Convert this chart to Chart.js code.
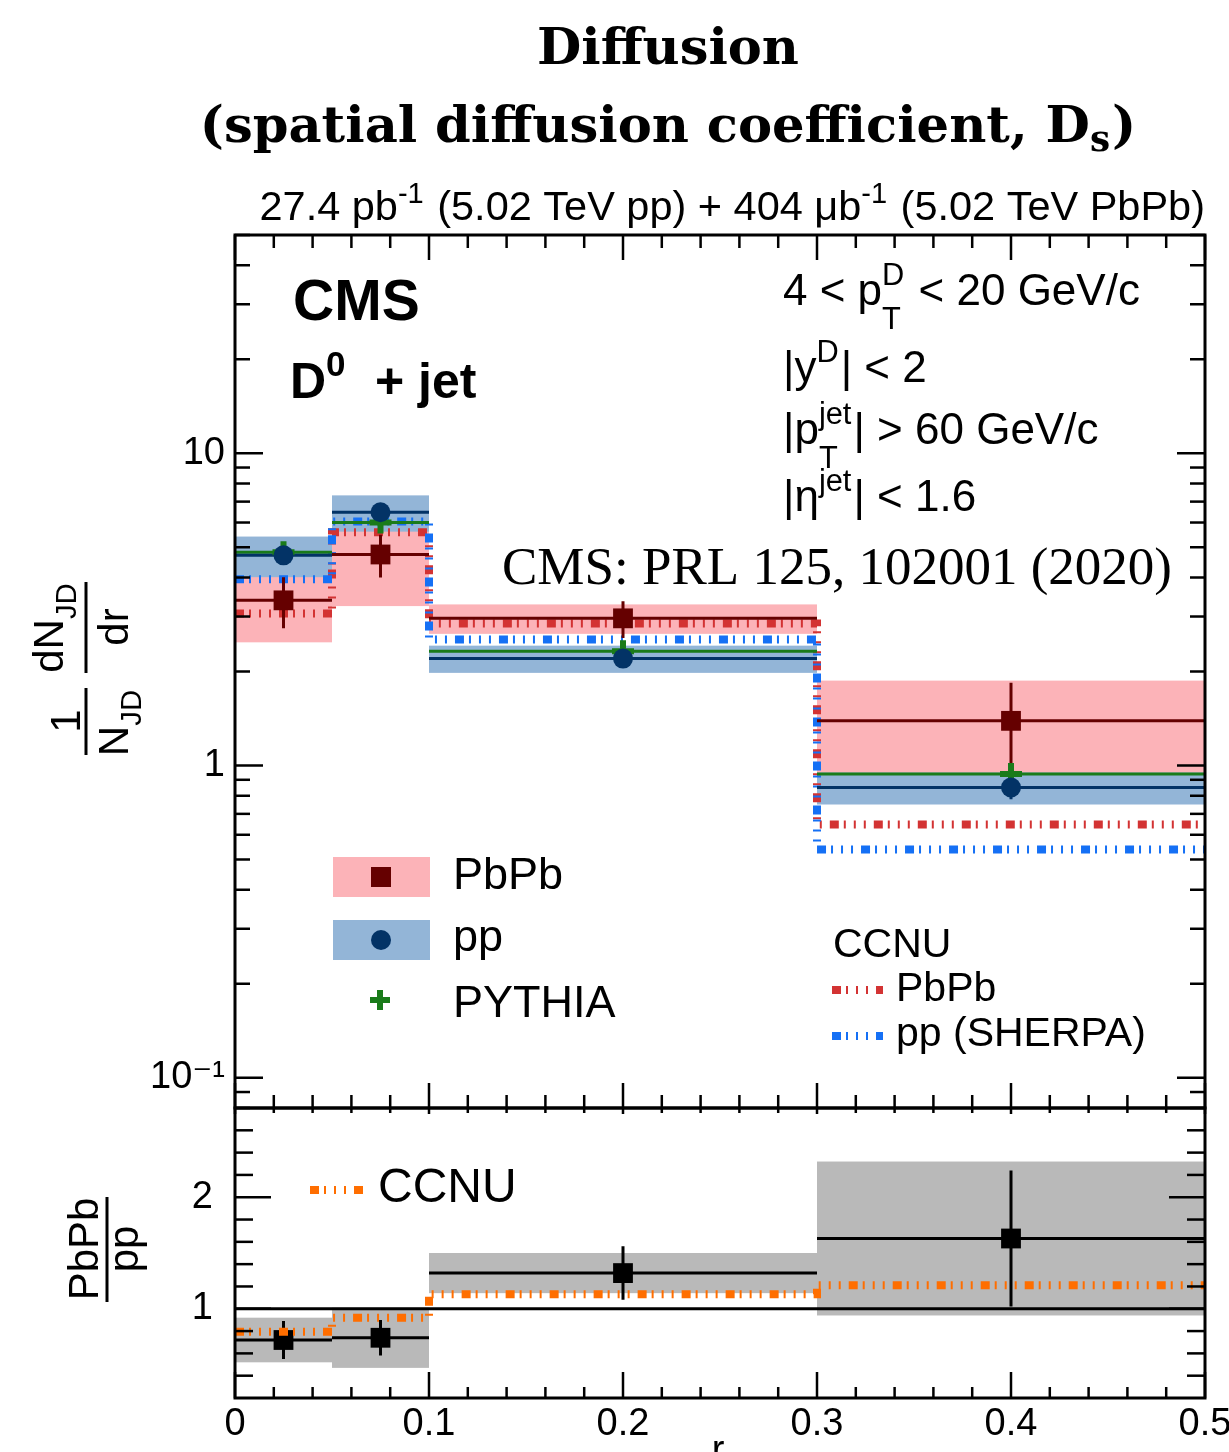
<!DOCTYPE html>
<html>
<head>
<meta charset="utf-8">
<script src="https://cdn.jsdelivr.net/npm/chart.js@4.4.1/dist/chart.umd.min.js"></script>
<style>
  body { margin: 0; background: #fff; overflow: hidden; }
  .panel { position: absolute; left: 0; width: 1229px; }
  #top { top: 0; height: 1112px; }
  #bot { top: 1100px; height: 352px; }
</style>
</head>
<body>
<div id="top" class="panel"><canvas id="c1"></canvas></div>
<div id="bot" class="panel"><canvas id="c2"></canvas></div>
<script>
// bins in r
const binEdges = [0, 0.05, 0.1, 0.3, 0.5];
const binCenters = [0.025, 0.075, 0.2, 0.4];

// top panel: 1/N dN/dr
const pbpbValues = [3.38, 4.74, 2.96, 1.39];
const pbpbStat = [0.63, 0.74, 0.40, 0.45];
const pbpbSyst = [0.90, 1.50, 0.32, 0.48];
const ppValues = [4.71, 6.47, 2.20, 0.85];
const ppStat = [0.30, 0.35, 0.12, 0.07];
const ppSyst = [0.70, 0.86, 0.22, 0.10];
const pythiaValues = [4.82, 6.00, 2.32, 0.94];
const ccnuPbPb = [3.07, 5.58, 2.85, 0.647];
const ccnuPP = [3.95, 6.05, 2.53, 0.538];

// bottom panel: PbPb / pp
const ratioValues = [0.72, 0.74, 1.32, 1.63];
const ratioStat = [0.17, 0.16, 0.24, 0.61];
const ratioSyst = [0.20, 0.27, 0.18, 0.69];
const ccnuRatio = [0.795, 0.92, 1.13, 1.21];

// ticks
const xTicks = [0, 0.1, 0.2, 0.3, 0.4, 0.5];
const xTickLabels = ['0', '0.1', '0.2', '0.3', '0.4', '0.5'];
const yTopTicks = [0.1, 1, 10];
const yTopTickLabels = ['10\u207B\u00B9', '1', '10'];
const yBotTicks = [1, 2];
const yBotTickLabels = ['1', '2'];

const SANS = '"Liberation Sans", Arial, "DejaVu Sans", sans-serif';
const SERIF = '"Liberation Serif", "Times New Roman", serif';
const SERIF_B = '"DejaVu Serif", serif';

const PBPB_MARK = '#650000', PBPB_BOX = '#fcb3b8';
const PP_MARK = '#033366', PP_BOX = '#93b5d7';
const PYTHIA_COL = '#1a7b1a';
const CCNU_RED = '#d33333', CCNU_BLUE = '#1570f5', CCNU_ORANGE = '#ff6e00';
const RATIO_BOX = '#b9b9b9';
const CCNU_DASH = [9, 5, 2, 8, 2, 8, 2, 8];

const xMinor = [];
for (let i = 1; i < 25; i++) if (i % 5) xMinor.push(i * 0.02);
const yTopMinor = [];
[0.01, 0.1, 1, 10].forEach(d => {
  for (let k = 2; k <= 9; k++) { const v = k * d; if (v >= 0.079 && v <= 50) yTopMinor.push(v); }
});
const yBotMinor = [];
for (let i = 2; i < 14; i++) if (i !== 5 && i !== 10) yBotMinor.push(i * 0.2);

function points(vals) { return vals.map((v, i) => ({ x: binCenters[i], y: v })); }
function binLines(vals) {
  const pts = [];
  vals.forEach((v, i) => {
    pts.push({ x: binEdges[i], y: v }, { x: binEdges[i + 1], y: v }, { x: binEdges[i + 1], y: null });
  });
  return pts;
}
function errorBars(vals, errs) {
  const pts = [];
  vals.forEach((v, i) => {
    pts.push({ x: binCenters[i], y: v - errs[i] }, { x: binCenters[i], y: v + errs[i] }, { x: binCenters[i], y: null });
  });
  return pts;
}
function steps(vals) {
  return binEdges.map((e, i) => ({ x: e, y: vals[Math.min(i, vals.length - 1)] }));
}
function lineSet(data, color, width, order, extra) {
  return Object.assign({ data, showLine: true, borderColor: color, borderWidth: width,
    pointRadius: 0, order, fill: false }, extra || {});
}
// keep chart area where we put it: no label padding
function fixScale(s, w, h) {
  if (w !== undefined) s.width = w;
  if (h !== undefined) s.height = h;
  s.paddingTop = s.paddingBottom = s.paddingLeft = s.paddingRight = 0;
}

// text with super/subscripts
function drawRich(ctx, x, y, parts, o) {
  const font = s => (o.bold ? 'bold ' : '') + s + 'px ' + o.fam;
  const small = o.size * (o.sc || 0.7);
  const items = parts.map(p => {
    if (typeof p === 'string') { ctx.font = font(o.size); return { p, w: ctx.measureText(p).width }; }
    ctx.font = font(small);
    const w = Math.max(p.sup ? ctx.measureText(p.sup).width : 0, p.sub ? ctx.measureText(p.sub).width : 0);
    return { p, w: w + 2 };
  });
  const total = items.reduce((a, b) => a + b.w, 0);
  if (o.measure) return total;
  let cx = o.align === 'center' ? x - total / 2 : o.align === 'right' ? x - total : x;
  ctx.textAlign = 'left';
  ctx.textBaseline = 'alphabetic';
  ctx.fillStyle = o.color || '#000';
  items.forEach(it => {
    const p = it.p;
    if (typeof p === 'string') {
      ctx.font = font(o.size);
      ctx.fillText(p, cx, y);
    } else {
      ctx.font = font(small);
      if (p.sup) ctx.fillText(p.sup, cx, y - o.size * (p.up || o.up || 0.42));
      if (p.sub) ctx.fillText(p.sub, cx, y + o.size * (p.down || o.down || 0.3));
    }
    cx += it.w;
  });
  return total;
}
function fitSize(ctx, parts, o, target) {
  const w = drawRich(ctx, 0, 0, parts, Object.assign({}, o, { size: 50, measure: true }));
  return 50 * target / w;
}
function vtext(ctx, parts, px, cy, size) {
  ctx.save();
  ctx.translate(px, cy);
  ctx.rotate(-Math.PI / 2);
  drawRich(ctx, 0, 0, parts, { size, fam: SANS, align: 'center', down: 0.3 });
  ctx.restore();
}
function vbar(ctx, x, y1, y2) {
  ctx.save(); ctx.strokeStyle = '#000'; ctx.lineWidth = 3;
  ctx.beginPath(); ctx.moveTo(x, y1); ctx.lineTo(x, y2); ctx.stroke(); ctx.restore();
}
function dashSample(ctx, x1, x2, y, color) {
  ctx.save(); ctx.strokeStyle = color; ctx.lineWidth = 8; ctx.setLineDash(CCNU_DASH);
  ctx.beginPath(); ctx.moveTo(x1, y); ctx.lineTo(x2, y); ctx.stroke(); ctx.restore();
}

// systematic boxes, drawn under the datasets
const sysBoxes = {
  id: 'sysBoxes',
  beforeDatasetsDraw(chart, args, opts) {
    const { ctx, chartArea: a, scales } = chart;
    ctx.save();
    ctx.beginPath(); ctx.rect(a.left, a.top, a.right - a.left, a.bottom - a.top); ctx.clip();
    opts.sets.forEach(s => {
      ctx.fillStyle = s.color;
      s.vals.forEach((v, i) => {
        const x0 = scales.x.getPixelForValue(binEdges[i]);
        const x1 = scales.x.getPixelForValue(binEdges[i + 1]);
        const y0 = scales.y.getPixelForValue(v + s.errs[i]);
        const y1 = scales.y.getPixelForValue(v - s.errs[i]);
        ctx.fillRect(x0, y0, x1 - x0, y1 - y0);
      });
    });
    ctx.restore();
  }
};

// ROOT style frame with inward ticks
const frameTicks = {
  id: 'frameTicks',
  afterDatasetsDraw(chart, args, o) {
    const { ctx, chartArea: a, scales } = chart;
    ctx.save();
    ctx.strokeStyle = '#000';
    ctx.lineWidth = 2.5;
    const seg = (x1, y1, x2, y2) => { ctx.beginPath(); ctx.moveTo(x1, y1); ctx.lineTo(x2, y2); ctx.stroke(); };
    const xt = (vals, lb, lt) => vals.forEach(v => {
      const px = scales.x.getPixelForValue(v);
      seg(px, a.bottom, px, a.bottom - lb);
      seg(px, a.top, px, a.top + lt);
    });
    const yt = (vals, l) => vals.forEach(v => {
      const py = scales.y.getPixelForValue(v);
      seg(a.left, py, a.left + l, py);
      seg(a.right, py, a.right - l, py);
    });
    xt(xTicks, o.xMaj[0], o.xMaj[1]);
    xt(xMinor, o.xMin[0], o.xMin[1]);
    yt(o.yMajor, o.yMaj);
    yt(o.yMinor, o.yMin);
    ctx.lineWidth = 3;
    ctx.strokeRect(a.left, a.top, a.right - a.left, a.bottom - a.top);
    ctx.restore();
  }
};

const topTexts = {
  id: 'topTexts',
  afterDraw(chart) {
    const ctx = chart.ctx;
    ctx.save();
    // title
    let o = { fam: SERIF_B, bold: true, align: 'center' };
    let p = ['Diffusion'];
    drawRich(ctx, 668, 64, p, Object.assign(o, { size: fitSize(ctx, p, o, 262) }));
    o = { fam: SERIF_B, bold: true, align: 'center', down: 0.18 };
    p = ['(spatial diffusion coefficient, D', { sub: 's' }, ')'];
    drawRich(ctx, 668, 142, p, Object.assign(o, { size: fitSize(ctx, p, o, 937) }));
    // luminosity
    o = { fam: SANS, align: 'right', up: 0.4 };
    p = ['27.4 pb', { sup: '-1' }, ' (5.02 TeV pp) + 404 \u03BCb', { sup: '-1' }, ' (5.02 TeV PbPb)'];
    drawRich(ctx, 1205, 220, p, Object.assign(o, { size: fitSize(ctx, p, o, 945) }));
    // CMS labels
    drawRich(ctx, 293, 320, ['CMS'], { fam: SANS, bold: true, size: 57 });
    drawRich(ctx, 290, 398, ['D', { sup: '0' }], { fam: SANS, bold: true, size: 50, up: 0.45 });
    drawRich(ctx, 375, 398, ['+ jet'], { fam: SANS, bold: true, size: 50 });
    // selection
    const so = { fam: SANS, size: 44, up: 0.45, down: 0.55 };
    drawRich(ctx, 783, 305, ['4 < p', { sup: 'D', sub: 'T' }, ' < 20 GeV/c'], so);
    drawRich(ctx, 783, 382, ['|y', { sup: 'D' }, '| < 2'], so);
    drawRich(ctx, 783, 444, ['|p', { sup: 'jet', sub: 'T' }, '| > 60 GeV/c'], so);
    drawRich(ctx, 783, 511, ['|\u03B7', { sup: 'jet' }, '| < 1.6'], so);
    // reference
    o = { fam: SERIF };
    p = ['CMS: PRL 125, 102001 (2020)'];
    drawRich(ctx, 502, 584, p, Object.assign(o, { size: fitSize(ctx, p, o, 670) }));
    // y title
    vtext(ctx, ['dN', { sub: 'JD' }], 63, 627, 42);
    vbar(ctx, 86, 582, 673);
    vtext(ctx, ['dr'], 128, 627, 42);
    vtext(ctx, ['1'], 80, 721, 42);
    vbar(ctx, 86, 688, 755);
    vtext(ctx, ['N', { sub: 'JD' }], 128, 722, 42);
    // legend
    ctx.fillStyle = PBPB_BOX; ctx.fillRect(333, 857, 97, 40);
    ctx.fillStyle = PBPB_MARK; ctx.fillRect(371, 867, 20, 20);
    ctx.fillStyle = PP_BOX; ctx.fillRect(333, 920, 97, 40);
    ctx.fillStyle = PP_MARK; ctx.beginPath(); ctx.arc(381, 940, 10, 0, 2 * Math.PI); ctx.fill();
    ctx.strokeStyle = PYTHIA_COL; ctx.lineWidth = 6;
    ctx.beginPath(); ctx.moveTo(370, 1000); ctx.lineTo(390, 1000); ctx.moveTo(380, 990); ctx.lineTo(380, 1010); ctx.stroke();
    const lo = { fam: SANS, size: 45 };
    drawRich(ctx, 453, 889, ['PbPb'], lo);
    drawRich(ctx, 453, 951, ['pp'], lo);
    drawRich(ctx, 453, 1017, ['PYTHIA'], lo);
    const co = { fam: SANS, size: 41 };
    drawRich(ctx, 833, 957, ['CCNU'], co);
    dashSample(ctx, 832, 883, 990, CCNU_RED);
    drawRich(ctx, 896, 1001, ['PbPb'], co);
    dashSample(ctx, 832, 883, 1036, CCNU_BLUE);
    drawRich(ctx, 896, 1046, ['pp (SHERPA)'], co);
    ctx.restore();
  }
};

const botTexts = {
  id: 'botTexts',
  afterDraw(chart) {
    const ctx = chart.ctx;
    const dy = -1100;
    ctx.save();
    vtext(ctx, ['PbPb'], 98, 1249 + dy, 42);
    vbar(ctx, 107, 1197 + dy, 1302 + dy);
    vtext(ctx, ['pp'], 138, 1249 + dy, 42);
    dashSample(ctx, 310, 366, 1190 + dy, CCNU_ORANGE);
    drawRich(ctx, 378, 1202 + dy, ['CCNU'], { fam: SANS, size: 48 });
    drawRich(ctx, 718, 1462 + dy, ['r'], { fam: SANS, size: 38, align: 'center' });
    ctx.restore();
  }
};

Chart.defaults.font.family = SANS;
Chart.defaults.color = '#000';

new Chart(document.getElementById('c1'), {
  type: 'scatter',
  data: {
    datasets: [
      { data: points(pbpbValues), pointStyle: 'rect', pointRadius: 14, backgroundColor: PBPB_MARK, borderWidth: 0, order: 1 },
      { data: points(ppValues), pointStyle: 'circle', pointRadius: 10, backgroundColor: PP_MARK, borderWidth: 0, order: 2 },
      { data: points(pythiaValues), pointStyle: 'cross', pointRadius: 11, borderColor: PYTHIA_COL, borderWidth: 6, order: 3 },
      lineSet(errorBars(pbpbValues, pbpbStat), PBPB_MARK, 3, 4),
      lineSet(errorBars(ppValues, ppStat), PP_MARK, 3, 5),
      lineSet(binLines(pbpbValues), PBPB_MARK, 3, 6),
      lineSet(binLines(ppValues), PP_MARK, 3, 7),
      lineSet(binLines(pythiaValues), PYTHIA_COL, 3, 8),
      lineSet(steps(ccnuPP), CCNU_BLUE, 8, 9, { stepped: true, borderDash: CCNU_DASH }),
      lineSet(steps(ccnuPbPb), CCNU_RED, 8, 10, { stepped: true, borderDash: CCNU_DASH })
    ]
  },
  options: {
    responsive: true,
    maintainAspectRatio: false,
    animation: false,
    devicePixelRatio: 1,
    events: [],
    layout: { autoPadding: false, padding: { top: 235, left: 135, right: 24, bottom: 4 } },
    scales: {
      x: { type: 'linear', min: 0, max: 0.5, display: false },
      y: {
        type: 'logarithmic', min: 0.08, max: 50,
        afterBuildTicks: s => { s.ticks = yTopTicks.map(v => ({ value: v })); },
        afterFit: s => fixScale(s, 100),
        ticks: {
          callback: v => yTopTickLabels[yTopTicks.indexOf(v)],
          font: { size: 38 }, padding: 10, autoSkip: false
        },
        grid: { display: false, drawTicks: false },
        border: { display: false }
      }
    },
    plugins: {
      legend: { display: false },
      tooltip: { enabled: false },
      sysBoxes: { sets: [{ vals: pbpbValues, errs: pbpbSyst, color: PBPB_BOX }, { vals: ppValues, errs: ppSyst, color: PP_BOX }] },
      frameTicks: { yMajor: yTopTicks, yMinor: yTopMinor, xMaj: [25, 25], xMin: [13, 13], yMaj: 28, yMin: 15 }
    }
  },
  plugins: [sysBoxes, frameTicks, topTexts]
});

new Chart(document.getElementById('c2'), {
  type: 'scatter',
  data: {
    datasets: [
      lineSet(steps(ccnuRatio), CCNU_ORANGE, 8, 0, { stepped: true, borderDash: CCNU_DASH }),
      { data: points(ratioValues), pointStyle: 'rect', pointRadius: 14, backgroundColor: '#000', borderWidth: 0, order: 1 },
      lineSet(errorBars(ratioValues, ratioStat), '#000', 3, 2),
      lineSet(binLines(ratioValues), '#000', 3, 3),
      lineSet([{ x: 0, y: 1 }, { x: 0.5, y: 1 }], '#000', 3, 5)
    ]
  },
  options: {
    responsive: true,
    maintainAspectRatio: false,
    animation: false,
    devicePixelRatio: 1,
    events: [],
    layout: { autoPadding: false, padding: { top: 8, left: 135, right: 24, bottom: 0 } },
    scales: {
      x: {
        type: 'linear', min: 0, max: 0.5,
        afterBuildTicks: s => { s.ticks = xTicks.map(v => ({ value: v })); },
        afterFit: s => fixScale(s, undefined, 54),
        ticks: {
          callback: v => xTickLabels[xTicks.indexOf(v)],
          font: { size: 38 }, padding: 4, autoSkip: false, maxRotation: 0
        },
        grid: { display: false, drawTicks: false },
        border: { display: false }
      },
      y: {
        type: 'linear', min: 0.2, max: 2.8,
        afterBuildTicks: s => { s.ticks = yBotTicks.map(v => ({ value: v })); },
        afterFit: s => fixScale(s, 100),
        ticks: {
          callback: v => yBotTickLabels[yBotTicks.indexOf(v)],
          font: { size: 38 }, padding: 22, autoSkip: false
        },
        grid: { display: false, drawTicks: false },
        border: { display: false }
      }
    },
    plugins: {
      legend: { display: false },
      tooltip: { enabled: false },
      sysBoxes: { sets: [{ vals: ratioValues, errs: ratioSyst, color: RATIO_BOX }] },
      frameTicks: { yMajor: yBotTicks, yMinor: yBotMinor, xMaj: [26, 6], xMin: [11, 5], yMaj: 36, yMin: 18 }
    }
  },
  plugins: [sysBoxes, frameTicks, botTexts]
});
</script>
</body>
</html>
